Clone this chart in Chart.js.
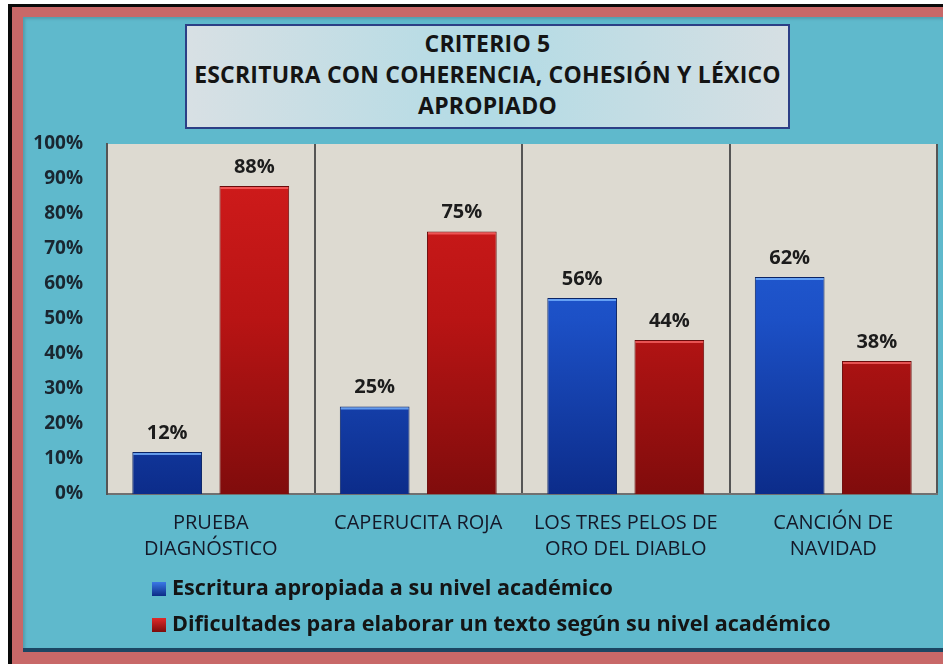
<!DOCTYPE html>
<html>
<head>
<meta charset="utf-8">
<script src="https://cdn.jsdelivr.net/npm/chart.js@4.4.0/dist/chart.umd.min.js"></script>
<style>
    body { margin: 0; background: #fff; width: 943px; height: 664px; overflow: hidden; position: relative; font-family: 'Open Sans', sans-serif; }
    #outerBlack { position: absolute; left: 8px; top: 4px; width: 960px; height: 680px; background: #0a0a0a; }
    #outerRed { position: absolute; left: 12px; top: 7px; width: 960px; height: 680px; background: #c86868; }
    #panel { position: absolute; left: 23px; top: 17px; width: 920px; height: 631px; background: #5fb9cc;
        box-shadow: 0 4px 0 #1b4663, inset 2px 2px 3px rgba(0,0,0,0.15); }
    #titleBox { position: absolute; left: 185px; top: 24px; width: 601px; height: 99px; padding-top: 2px;
        border: 2px solid #2c3f86; background: linear-gradient(90deg, #d8e0e4 0%, #b2dbe5 50%, #d6dfe3 100%);
        text-align: center; font-weight: 700; font-size: 23px; line-height: 31px; color: #141414; letter-spacing: 0.2px; }
</style>
</head>
<body>
<div id="outerBlack"></div>
<div id="outerRed"></div>
<div id="panel">
    <canvas id="criterio5"></canvas>
</div>
<div id="titleBox">CRITERIO 5<br>ESCRITURA CON COHERENCIA, COHESIÓN Y LÉXICO<br>APROPIADO</div>

<script>
const categories = [['PRUEBA', 'DIAGNÓSTICO'], 'CAPERUCITA ROJA', ['LOS TRES PELOS DE', 'ORO DEL DIABLO'], ['CANCIÓN DE', 'NAVIDAD']]
const seriesNames = ['Escritura apropiada a su nivel académico', 'Dificultades para elaborar un texto según su nivel académico']
const apropiada = [12, 25, 56, 62]
const dificultades = [88, 75, 44, 38]
const yTicks = [0, 10, 20, 30, 40, 50, 60, 70, 80, 90, 100]

const fontName = "'Open Sans', sans-serif"

function barGradient(ctx, area, light, mid, dark) {
    var g = ctx.createLinearGradient(0, area.top, 0, area.bottom)
    g.addColorStop(0, light)
    g.addColorStop(0.5, mid)
    g.addColorStop(1, dark)
    return g
}

const blueFill = function (c) {
    const area = c.chart.chartArea
    if (!area) return '#1a4fc0'
    return barGradient(c.chart.ctx, area, '#2766de', '#1c50c6', '#0c2c8a')
}
const redFill = function (c) {
    const area = c.chart.chartArea
    if (!area) return '#c81818'
    return barGradient(c.chart.ctx, area, '#d41c1c', '#b81414', '#800c0c')
}

// plot background
const plotBackground = {
    id: 'plotBackground',
    beforeDraw: function (chart) {
        const a = chart.chartArea
        const ctx = chart.ctx
        ctx.save()
        ctx.fillStyle = '#dddad1'
        ctx.fillRect(a.left, a.top, a.right - a.left, a.bottom - a.top)
        ctx.restore()
    }
}

// value labels over the bars, plus a light rim on top of each bar
const valueLabels = {
    id: 'valueLabels',
    afterDatasetsDraw: function (chart) {
        const ctx = chart.ctx
        ctx.save()
        chart.data.datasets.forEach((ds, i) => {
            chart.getDatasetMeta(i).data.forEach((bar, j) => {
                ctx.fillStyle = i === 0 ? 'rgba(120,180,255,0.8)' : 'rgba(255,110,110,0.7)'
                ctx.fillRect(bar.x - bar.width / 2 + 1, bar.y + 1, bar.width - 2, 2)
                ctx.font = '700 20px ' + fontName
                ctx.fillStyle = '#1c1c1c'
                ctx.textAlign = 'center'
                ctx.textBaseline = 'middle'
                ctx.fillText(ds.data[j] + '%', bar.x, bar.y - 19)
            })
        })
        ctx.restore()
    }
}

// legend stacked under the axis
const stackedLegend = {
    id: 'stackedLegend',
    afterDraw: function (chart) {
        const ctx = chart.ctx
        const a = chart.chartArea
        ctx.save()
        ctx.font = '700 21.6px ' + fontName
        ctx.textBaseline = 'middle'
        chart.data.datasets.forEach((ds, i) => {
            const y = a.bottom + 95 + i * 36
            const x = a.left + 45
            const g = ctx.createLinearGradient(0, y - 7, 0, y + 7)
            g.addColorStop(0, i === 0 ? '#3a78e6' : '#e02a2a')
            g.addColorStop(1, i === 0 ? '#0c2c86' : '#7c0c0c')
            ctx.fillStyle = g
            ctx.fillRect(x, y - 7, 14, 14)
            ctx.fillStyle = '#141414'
            ctx.fillText(ds.label, x + 20, y)
        })
        ctx.restore()
    }
}

var ctx = document.getElementById('criterio5').getContext('2d')

var chart = new Chart(ctx, {
    type: 'bar',
    data: {
        labels: categories,
        datasets: [{
            label: seriesNames[0],
            data: apropiada,
            backgroundColor: blueFill,
            borderColor: '#0a2466',
            borderWidth: 1
        }, {
            label: seriesNames[1],
            data: dificultades,
            backgroundColor: redFill,
            borderColor: '#6a0a0a',
            borderWidth: 1
        }]
    },
    options: {
        responsive: true,
        maintainAspectRatio: false,
        animation: false,
        layout: { padding: { top: 127, right: 6, bottom: 0, left: 0 } },
        datasets: {
            bar: { categoryPercentage: 0.84, barPercentage: 0.8 }
        },
        plugins: {
            legend: { display: false },
            tooltip: { enabled: false }
        },
        scales: {
            x: {
                afterFit: function (scale) { scale.height = 154 },
                grid: { display: true, offset: true, color: '#555', lineWidth: 2, drawTicks: false },
                border: { display: true, color: '#707070', width: 2 },
                ticks: {
                    color: '#141828',
                    padding: 16,
                    maxRotation: 0,
                    font: { family: fontName, size: 20, lineHeight: 1.3 }
                }
            },
            y: {
                min: 0,
                max: 100,
                afterFit: function (scale) { scale.width = 84 },
                afterBuildTicks: function (scale) { scale.ticks = yTicks.map(v => ({ value: v })) },
                grid: { display: false },
                border: { display: true, color: '#555', width: 2 },
                ticks: {
                    color: '#1a2630',
                    padding: 16,
                    font: { family: fontName, size: 19, weight: '700' },
                    callback: v => v + '%'
                }
            }
        }
    },
    plugins: [plotBackground, valueLabels, stackedLegend]
})
</script>
</body>
</html>
